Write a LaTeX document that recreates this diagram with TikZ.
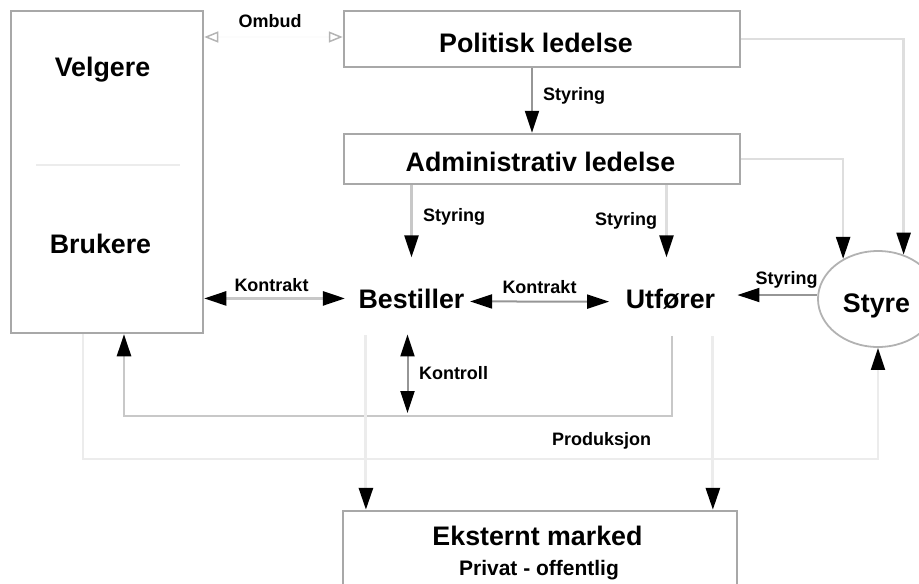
\documentclass[tikz,border=0pt]{standalone}
\usepackage{fontspec}
\setmainfont{Liberation Sans}
\usetikzlibrary{arrows.meta,calc,shapes.geometric}

\definecolor{boxline}{RGB}{168,168,168}
\definecolor{darkline}{RGB}{150,150,150}
\definecolor{midline}{RGB}{200,200,200}
\definecolor{paleline}{RGB}{222,222,222}
\definecolor{faintline}{RGB}{236,236,236}
\definecolor{ringline}{RGB}{178,178,178}
\definecolor{hollowtip}{RGB}{180,180,180}
\definecolor{ombudline}{RGB}{252,252,252}

\begin{document}
\begin{tikzpicture}[x=1pt,y=-1pt,
  every node/.style={inner sep=0pt},
  big/.style={font=\fontsize{26.8}{30}\selectfont\bfseries, anchor=base},
  mid/.style={font=\fontsize{21}{24}\selectfont\bfseries, anchor=base},
  small/.style={font=\fontsize{18}{21}\selectfont\bfseries, anchor=base},
  box/.style={draw=boxline, line width=2.5pt, rectangle},
  ring/.style={draw=ringline, line width=1.8pt, ellipse},
  conn/.style={line width=2.5pt},
  tipend/.style={-{Triangle[length=22pt,width=14pt,color=black]}},
  tipboth/.style={{Triangle[length=22pt,width=14pt,color=black]}-{Triangle[length=22pt,width=14pt,color=black]}},
  hollowboth/.style={{Triangle[open,length=14pt,width=11pt,color=hollowtip,line width=1.5pt]}-{Triangle[open,length=14pt,width=11pt,color=hollowtip,line width=1.5pt]}}
]
\useasboundingbox (0,0) rectangle (919,584);

% boxes
\node[box, minimum width=192pt, minimum height=322pt] (vel) at (107,172) {};
\node[box, minimum width=396pt, minimum height=56pt] (pol) at (542,39) {};
\node[box, minimum width=396pt, minimum height=50pt] (adm) at (542,159) {};
\node[box, minimum width=394pt, minimum height=100pt] (ext) at (540,561) {};
\node[ring, minimum width=120pt, minimum height=96pt] (styre) at (878,299) {};

% separator inside the voter/user box
\draw[faintline, line width=2pt] (36,165) -- (180,165);

% texts
\node[big] (velT) at (102.5,76) {Velgere};
\node[big] (bruT) at (100.5,253) {Brukere};
\node[big] (polT) at (536,52) {Politisk ledelse};
\node[big] (admT) at (540.5,171) {Administrativ ledelse};
\node[big] (bes) at (411.5,308) {Bestiller};
\node[big] (utf) at (670.5,308) {Utfører};
\node[big] (styreT) at (876.5,312) {Styre};
\node[big] (extT) at (537.5,545) {Eksternt marked};
\node[mid] (extS) at (539,575) {Privat - offentlig};

% labels
\node[small] (lOmbud) at (270,27) {Ombud};
\node[small] (lSty1) at (574,100) {Styring};
\node[small] (lSty2) at (454,221) {Styring};
\node[small] (lSty3) at (626,225) {Styring};
\node[small] (lSty4) at (786.5,284) {Styring};
\node[small] (lKon1) at (271.5,291) {Kontrakt};
\node[small] (lKon2) at (539.5,293) {Kontrakt};
\node[small] (lKtr) at (453.5,379) {Kontroll};
\node[small] (lProd) at (601.5,445) {Produksjon};

% helper coordinates
\coordinate (ombudY) at (0,37);
\coordinate (fb) at (0,416);
\coordinate (pr) at (0,459);
\coordinate (utfTop) at ([xshift=-4pt]utf.north);
\coordinate (besBot) at ([xshift=-4pt]bes.south);
\coordinate (utfK) at ([xshift=1.5pt,yshift=-27pt]utf.south);
\coordinate (velK) at ([xshift=17pt]vel.south);
\coordinate (velP) at ([xshift=-24pt]vel.south);
\coordinate (e1) at ([xshift=7.5pt,yshift=-27pt]bes.south west);
\coordinate (e2) at ([xshift=-2.5pt,yshift=-27pt]utf.south east);

% ombud
\draw[hollowboth, draw=ombudline, line width=1.5pt] (vel.east |- ombudY) -- (pol.west |- ombudY);

% steering lines
\draw[conn, darkline, line width=2pt, tipend] ([xshift=-10pt]pol.south) -- ([xshift=-10pt]adm.north);
\draw[conn, midline, tipend, shorten >=31pt] (bes.north |- adm.south) -- (bes.north);
\draw[conn, paleline, tipend, shorten >=31pt] (utfTop |- adm.south) -- (utfTop);
\draw[conn, paleline, tipend] (pol.east) -| (styre.60);
\draw[conn, paleline, tipend] (adm.east) -| (styre.131);
\draw[conn, darkline, line width=2pt, tipend, shorten >=22pt] ([yshift=4pt]styre.west) -- ([yshift=4pt]styre.west -| utf.east);

% contracts
\draw[conn, midline, tipboth, shorten >=13.5pt] (vel.east |- bes.west) -- (bes.west);
\draw[conn, darkline, line width=2pt, tipboth, shorten <=5.5pt, shorten >=16.5pt] ([yshift=-3pt]bes.east) -- ([yshift=-3pt]utf.west);

% control and feedback
\draw[conn, darkline, line width=2pt, tipboth, shorten <=26pt, shorten >=3pt] (besBot) -- (besBot |- fb);
\draw[conn, midline, tipend] (utfK) -- (utfK |- fb) -- (velK |- fb) -- (velK);

% production
\draw[conn, faintline, line width=2pt, tipend] (velP) -- (velP |- pr) -- (styre.south |- pr) -- (styre.south);

% external market
\draw[conn, faintline, line width=3pt, tipend] (e1) -- (e1 |- ext.north);
\draw[conn, faintline, line width=3pt, tipend] (e2) -- (e2 |- ext.north);
\end{tikzpicture}
\end{document}
